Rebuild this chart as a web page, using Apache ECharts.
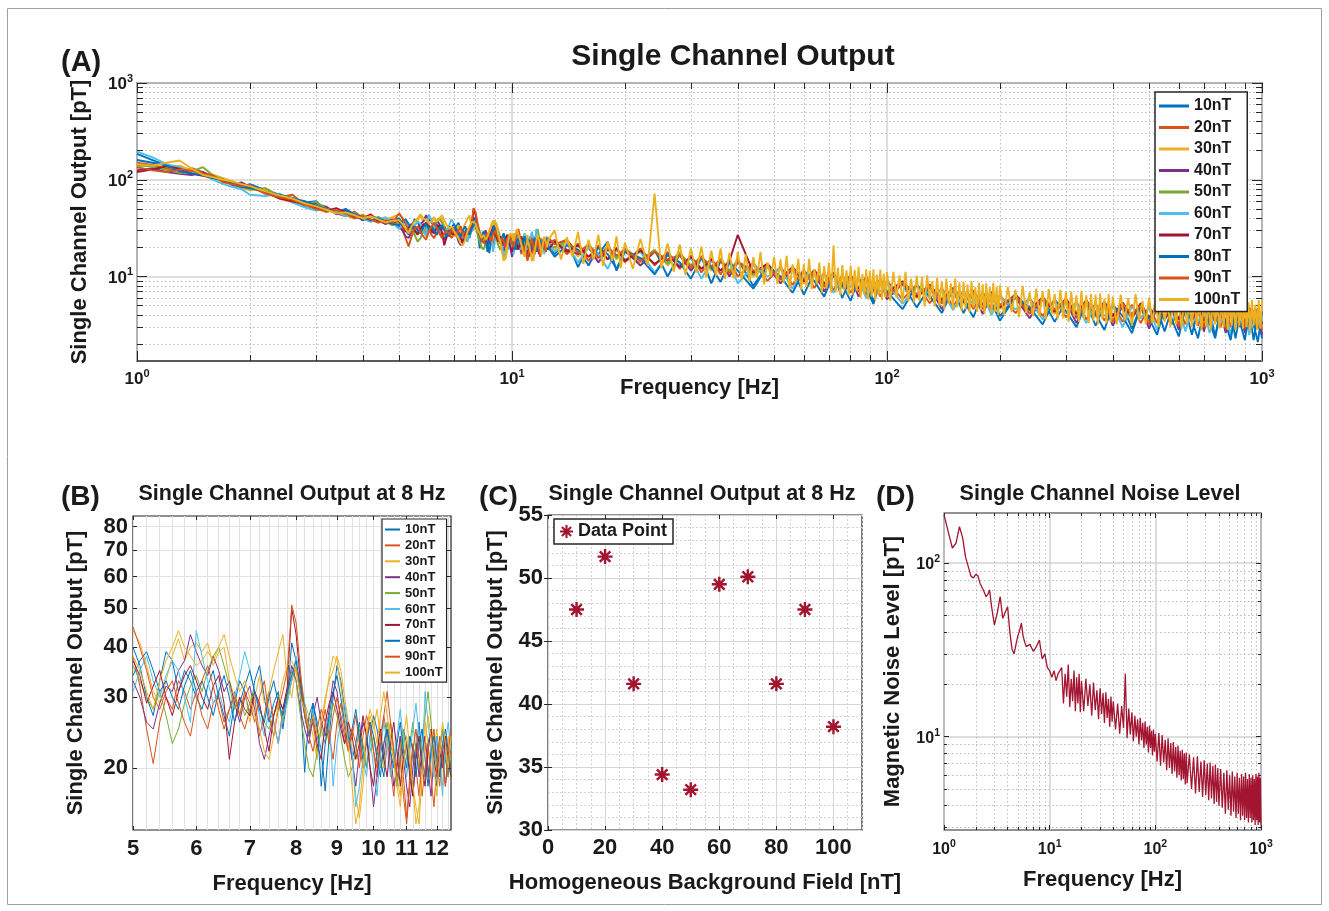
<!DOCTYPE html>
<html><head><meta charset="utf-8">
<script src="https://cdn.jsdelivr.net/npm/echarts@6/dist/echarts.min.js"></script>
<style>html,body{margin:0;padding:0;background:#fff}#c{width:1329px;height:911px}</style>
</head><body><div id="c"></div>
<script>
// ---------------- DATA ----------------
const seriesNames = ['10nT','20nT','30nT','40nT','50nT','60nT','70nT','80nT','90nT','100nT'];

// Panel A, low-frequency part (Hz) and outputs (pT)
const freqLowA = [1.0,1.1,1.2,1.3,1.4,1.5,1.6,1.7,1.8,1.9,2.0,2.2,2.4,2.6,2.8,3.0,3.2,3.4,3.6,3.8,4.0,4.2,4.4,4.6,4.8];
const lowA10  = [185,160,140,128,122,118,110,102,92,85,90,78,70,65,58,60,48,46,50,44,38,42,40,35,38];
const lowA20  = [150,142,130,125,132,120,108,98,94,90,85,72,66,70,55,50,53,45,42,47,40,37,41,38,34];
const lowA30  = [130,128,135,140,125,115,112,104,96,82,78,80,64,58,60,52,46,50,43,40,44,39,36,39,41];
const lowA40  = [125,132,120,115,112,120,106,96,90,94,84,76,70,62,54,57,52,44,48,42,39,43,38,35,37];
const lowA50  = [140,138,126,118,122,135,110,100,92,86,80,82,68,60,56,59,50,46,44,40,43,38,41,37,34];
const lowA60  = [195,170,145,135,118,112,100,90,84,80,70,68,72,58,52,48,50,47,42,45,40,37,39,41,36];
const lowA70  = [120,128,138,130,115,110,105,98,90,88,86,74,64,60,56,52,48,51,46,42,40,44,37,36,39];
const lowA80  = [160,150,140,122,116,112,104,100,88,84,82,75,70,64,60,54,50,45,47,44,41,38,40,37,35];
const lowA90  = [135,125,120,128,124,116,110,94,90,86,88,72,66,62,55,50,47,49,45,40,42,39,36,38,36];
const lowA100 = [145,140,150,158,130,112,106,100,96,90,86,76,69,64,57,53,49,45,46,43,40,42,39,36,38];

// Panel B (5 - 12.5 Hz), also used inside panel A
const freqB = [5.0,5.1,5.2,5.3,5.4,5.5,5.6,5.7,5.8,5.9,6.0,6.1,6.2,6.3,6.4,6.5,6.6,6.7,6.8,6.9,7.0,7.1,7.2,7.3,7.4,7.5,7.6,7.7,7.8,7.9,8.0,8.1,8.2,8.3,8.4,8.5,8.6,8.7,8.8,8.9,9.0,9.1,9.2,9.3,9.4,9.5,9.6,9.7,9.8,9.9,10.0,10.1,10.2,10.3,10.4,10.5,10.6,10.7,10.8,10.9,11.0,11.1,11.2,11.3,11.4,11.5,11.6,11.7,11.8,11.9,12.0,12.1,12.2,12.3,12.4,12.5];
const b10  = [40,36,30,27,33,39,37,31,35,33, 30,28,32,35,30,27,24,29,33,31, 27,33,36,30,26,29,31,25,30,41, 37,30,19.5,27,29,25,22,17.5,24,30, 36,33,28,24,21,23,26,22,20,24, 27,25,21,19,23,26,22,18,21,25, 23,20,17,22,26,21,19,23,25,20, 18,22,25,21,19,23];
const b20  = [38,32,25,20.5,26,30,28,33,31,28, 31,27,25,29,30,26,28,31,27,25, 28,30,24,27,31,26,23,28,30,33, 36,31,27,24,26,22,25,28,24,21, 26,29,25,22,24,27,23,20,24,26, 22,19,23,27,24,20,17,21,24,19, 15,19,23,20,17,21,24,19,22,25, 21,18,22,24,20,22];
const b30  = [44,41,36,31,29,33,38,42,37,40, 41,39,41,36,39,40,33,30,27,31, 26,30,34,29,31,35,39,43,33,30, 36,33,29,27,24,21,26,30,33,35, 38,35,30,26,22,17,15,18,24,27, 25,28,24,20,23,26,22,19,17,24, 27,22,18,14.5,16,21,26,23,19,22, 25,21,18,22,24,20];
const b40  = [33,30,26,25,29,32,31,35,37,43, 39,36,34,38,35,31,33,29,26,30, 32,28,23,21,24,27,30,28,31,36, 33,28,25,23,27,30,26,24,28,33, 31,26,23,25,21,18,22,26,24,20, 16,19,23,21,25,22,18,20,24,21, 18,16,20,23,19,22,24,20,17,21, 24,19,22,18,21,23];
const b50  = [36,33,30,28,31,27,23,25,29,32, 34,31,35,38,40,36,32,28,30,27, 29,31,28,26,25,27,29,26,30,35, 33,27,23,20,19,22,25,23,26,29, 27,24,21,19,20,22,25,23,20,22, 24,22,20,23,26,23,21,18,22,25, 21,23,26,22,20,24,27,31,26,22, 20,23,25,22,19,21];
const b60  = [31,35,38,33,30,34,37,35,30,26, 44,38,33,29,31,28,26,30,34,39, 35,31,27,24,28,26,23,27,29,33, 38,34,29,25,28,24,22,25,27,18, 23,26,29,25,22,16,18,21,19,24, 20,17,22,26,23,19,21,24,28,23, 19,22,25,29,24,20,31,26,22,19, 24,21,17,23,26,22];
const b70  = [37,34,29,32,35,30,27,31,34,36, 33,30,28,32,34,29,21,26,30,28, 27,31,29,25,22,27,30,28,32,50, 43,33,28,25,27,23,21,26,29,31, 28,25,23,26,24,21,23,27,24,20, 18,22,25,21,19,23,26,22,18,21, 23,19,17,21,24,20,18,22,25,21, 19,22,20,24,21,19];
const b80  = [34,37,39,35,31,33,30,28,32,35, 31,33,30,27,31,34,30,26,29,32, 35,31,28,26,30,33,29,27,31,34, 37,32,27,24,29,26,18,23,27,31, 34,30,26,23,25,28,24,21,23,26, 24,21,19,23,25,22,20,23,26,22, 20,24,22,19,23,25,21,18,22,24, 21,19,23,25,22,20];
const b90  = [45,40,35,30,28,31,33,29,26,24, 29,33,36,32,28,25,28,30,27,31, 29,26,30,33,27,24,28,31,35,51, 46,35,27,24,22,25,28,26,23,27, 30,27,24,22,25,23,20,24,27,25, 22,20,24,27,31,26,22,19,21,17, 14.5,18,22,25,21,17,20,23,19,16, 20,24,21,18,22,25];
const b100 = [38,35,31,28,33,37,40,44,40,38, 36,37,39,37,40,43,38,34,31,33, 30,27,25,22,21,24,29,33,36,37, 35,30,28,25,27,24,26,29,34,38, 37,32,27,23,18,14.5,16,20,25,28, 26,23,27,31,27,24,21,18,16,20, 24,21,18,16,14.5,19,23,27,24,20, 17,22,26,23,20,24];

// Panel A, high-frequency part (coarse grid for 10-90 nT)
const freqHighA = [13,14,15,16,17,18,19,20, 22,24,26,28,30,32,34,36,38,40, 44,48,52,56,60,64,68,72,76,80,84,88,92,96,100, 110,120,130,140,150,160,170,180,190,200, 220,240,260,280,300,320,340,360,380,400, 425,450,475,500,525,550,575,600,625,650,675,700,725,750,775,800,825,850,875,900,925,950,975,1000];
const highA10  = [17,24,12.5,21,17,23,11.5,18, 14,19,10,17,12,16,8.5,14.5,11,15, 8,13,9.5,12,6.5,11,8,10.5,6,9.8,7.2,9.5,5.5,9,6.5, 8.4,4.8,7.8,5.3,7.2,4.2,6.8,4.9,6.5,3.9, 6.1,4.3,5.8,3.4,5.5,4.0,5.3,3.1,5.1,3.7, 5.0,2.9,4.9,3.5,4.8,2.7,4.7,3.3,4.6,2.5,4.6,3.2,4.5,2.4,4.5,3.1,4.4,2.3,4.4,3.0,4.3,2.2,4.3,2.3];
const highA20  = [24,17,22,14.5,21,15,20,14, 19.5,13,18,12,16.5,11,15.5,10.5,15,10, 13.8,9,12.6,8.2,11.7,7.6,11,7.2,10.4,6.8,9.9,6.5,9.4,6.2,9, 5.8,8.3,5.3,7.6,4.9,7.1,4.6,6.8,4.5,6.4, 4.2,6.0,3.9,5.8,3.8,5.5,3.6,5.3,3.5,5.2, 3.4,5.1,3.3,4.9,3.3,4.9,3.2,4.8,3.2,4.7,3.1,4.7,3.1,4.6,3.0,4.6,3.0,4.5,3.0,4.5,2.9,4.5,2.9,4.4];
const highA30  = [19,23,16,22,15.5,21,15,20, 14,19,13,18,12,16.5,11.5,15.5,11,14.5, 10,13.5,9.2,12.5,8.5,11.8,8,11,7.5,10.5,7.2,10,6.8,9.6,6.5, 9,6,8.3,5.5,7.7,5.2,7.2,4.9,7.0,4.6, 6.6,4.4,6.2,4.1,6.0,4.0,5.7,3.8,5.5,3.7, 5.4,3.6,5.3,3.5,5.2,3.5,5.1,3.4,5.0,3.4,5.0,3.3,4.9,3.3,4.9,3.2,4.8,3.2,4.8,3.2,4.7,3.1,4.7,3.1];
const highA40  = [22,19,17,20,14,19,16,18.5, 13,18,14.5,16.5,11.5,15.5,12.5,14.8,10,14, 11,12.8,8.5,12,9,11,7,10.3,8,9.8,6.2,9.3,7.2,9,5.8, 8.4,6.2,7.8,4.6,7.2,5.4,6.8,4.1,6.5,4.8, 6.1,3.7,5.8,4.4,5.5,3.3,5.3,4.0,5.1,3.1, 5.0,3.8,4.9,2.9,4.8,3.6,4.7,2.8,4.7,3.5,4.6,2.7,4.6,3.4,4.5,2.6,4.5,3.3,4.5,2.6,4.4,3.3,4.4,2.5];
const highA50  = [20,23.5,18,21,16,20.5,15.5,19.5, 15,18.5,13.5,17.5,13,16,12,15,11.5,14.5, 10.5,13.2,9.8,12.4,9.2,11.5,8.6,10.8,8.1,10.2,7.7,9.8,7.3,9.3,7.0, 8.8,6.4,8.1,5.9,7.5,5.5,7.0,5.2,6.8,5.0, 6.4,4.7,6.0,4.4,5.8,4.3,5.6,4.1,5.4,4.0, 5.3,3.9,5.2,3.8,5.1,3.7,5.0,3.7,4.9,3.6,4.9,3.6,4.8,3.5,4.8,3.5,4.7,3.5,4.7,3.4,4.7,3.4,4.6,3.4];
const highA60  = [18,22,14,20,17,12,19,15, 18,11,16.5,13,15.5,9.5,14.5,11.5,14,8.5, 13,10,12,7.5,11,8.8,10.5,6.8,9.8,7.8,9.3,6,8.8,7,8.5, 5.2,8,6,7.3,4.5,6.8,5.2,6.5,4.0,6.1, 4.6,5.8,3.6,5.5,4.2,5.3,3.3,5.1,3.9,5.0, 3.0,4.9,3.7,4.8,2.8,4.7,3.5,4.6,2.7,4.6,3.4,4.5,2.6,4.5,3.3,4.4,2.5,4.4,3.3,4.3,2.5,4.3,3.2,4.2];
const highA70  = [23,18,21,16,20,15,19.5,14.5, 18.5,13.5,17,12.5,16,12,15,11.5,14.5,27, 11,13.5,9.6,12.5,9,11.6,8.4,10.9,7.9,10.3,7.5,9.9,7.1,9.4,6.8, 8.9,6.2,8.2,5.7,7.6,5.4,7.1,5.1,6.9,4.8, 6.5,4.5,6.1,4.3,5.9,4.1,5.7,4.0,5.5,3.9, 5.4,3.8,5.3,3.7,5.2,3.6,5.1,3.6,5.0,3.5,5.0,3.5,4.9,3.4,4.9,3.4,4.8,3.3,4.8,3.3,4.8,3.3,4.7,3.2];
const highA80  = [16,21,19,13,20,17,12,18.5, 15.5,10.5,17,14,9.5,15.5,12.5,8.8,14,11.5, 7.5,12.8,10,6.8,11.5,9,6.2,10.5,8.2,5.6,9.6,7.6,5.2,9,7, 4.6,8.2,6.3,4.2,7.4,5.7,3.8,6.8,5.3,3.5, 6.2,4.8,3.2,5.7,4.4,3.0,5.4,4.1,2.8,5.1, 3.9,2.6,4.9,3.7,2.5,4.8,3.6,2.4,4.7,3.5,2.3,4.6,3.4,2.3,4.5,3.3,2.2,4.4,3.3,2.2,4.4,3.2,2.1,4.3];
const highA90  = [21.5,24,17.5,21.5,15.5,20,16.5,19, 14.5,18,15,16.5,12.5,15.8,12.8,14.5,10.8,14.2, 11.5,12.5,9.3,12.2,9.5,11.2,7.8,10.6,8.5,9.9,6.9,9.6,7.6,9.1,6.3, 8.7,6.6,8,5.3,7.4,5.8,6.9,4.6,6.7,5.1, 6.3,4.1,6.0,4.6,5.7,3.7,5.5,4.3,5.3,3.4, 5.2,4.1,5.1,3.2,5.0,3.9,4.9,3.1,4.9,3.8,4.8,3.0,4.8,3.7,4.7,2.9,4.7,3.6,4.6,2.9,4.6,3.6,4.6,2.8];

// Dense frequency grid for the 100 nT trace (drawn on top in A)
const freqHighDense = [13,13.5,14,14.5,15,15.5,16,16.5,17,17.5,18,18.5,19,19.5,20,
 21,22,23,24,25,26,27,28,29,30,31,32,33,34,35,36,37,38,39,40,
 41,42,43,44,45,46,47,48,49,50,51,52,53,54,55,56,57,58,59,60,61,62,63,64,65,66,67,68,69,70,71,72,73,74,75,76,77,78,79,80,81,82,83,84,85,86,87,88,89,90,91,92,93,94,95,96,97,98,99,100,
 102,104,106,108,110,112,114,116,118,120,122,124,126,128,130,132,134,136,138,140,142,144,146,148,150,152,154,156,158,160,162,164,166,168,170,172,174,176,178,180,182,184,186,188,190,192,194,196,198,200,
 205,210,215,220,225,230,235,240,245,250,255,260,265,270,275,280,285,290,295,300,305,310,315,320,325,330,335,340,345,350,355,360,365,370,375,380,385,390,395,400,
 410,420,430,440,450,460,470,480,490,500,510,520,530,540,550,560,570,580,590,600,610,620,630,640,650,660,670,680,690,700,710,720,730,740,750,760,770,780,790,800,810,820,830,840,850,860,870,880,890,900,910,920,930,940,950,960,970,980,990,1000];
const highA100 = [30,15,25.5,16,29,13.5,24,15,27,12.8,23,14.5,26,12.2,22.5,
 12,24.5,13,72,12.2,22,11.2,21.5,10.4,19.5,11,20.5,9.8,18.5,10.2,19.5,9.4,17.5,9.6,18,
 9.2,17.0,8.9,15.9,9.7,18.0,8.3,14.0,9.9,16.0, 8.4,15.0,8.6,16.4,7.3,13.4,8.7,15.2,7.3,13.4, 7.8,15.2,7.4,11.9,8.3,13.9,6.8,12.8,7.5,13.9, 6.8,21,6.9,12.4,6.4,13.1,7.2,11.6,6.4,13.0, 6.5,11.7,7.1,12.6,6.0,10.6,6.5,11.9,5.8,11.5, 6.2,11.9,5.7,10.5,6.4,11.8,5.7,10.7,6.1,11.1,
 5.6,11.2,6.1,10.3,5.3,11.2,5.6,9.5,5.4,10.2, 5.6,9.9,4.9,10.3,5.7,8.9,4.9,9.7,5.0,8.9, 4.6,9.5,5.2,8.5,4.6,9.5,4.8,8.7,4.4,8.8, 4.6,8.3,4.3,9.0,4.8,7.8,4.3,8.6,4.5,8.3, 4.1,8.5,4.8,7.8,4.2,8.6,4.3,7.9,4.0,8.1,
 4.0,7.8,4.3,7.3,3.8,8.0,4.2,6.9,3.9,7.5, 3.9,7.1,3.6,7.4,4.1,6.6,3.6,7.3,3.7,6.9, 3.4,7.0,3.9,6.4,3.4,7.1,3.6,6.4,3.3,6.6, 3.5,6.5,3.2,6.7,3.6,5.9,3.3,6.6,3.4,6.2,
 3.2,6.5,3.5,6.0,3.1,6.6,3.5,5.6,3.2,6.1, 3.3,5.9,3.0,6.3,3.4,5.6,3.0,6.2,3.2,5.9, 2.9,6.0,3.3,5.5,3.0,6.2,3.1,5.5,2.8,5.8, 3.0,5.6,2.8,5.9,3.2,5.2,2.9,5.8,3.0,5.5, 2.8,5.8,3.1,5.3,2.8,5.9,3.1,5.2,2.9,5.6, 3.0,5.4,2.7,5.7,3.1,5.1,2.8,5.7,2.9,5.6];

// Panel C
const fieldC = [10,20,30,40,50,60,70,80,90,100];
const outputC = [47.5,51.7,41.6,34.4,33.2,49.5,50.1,41.6,47.5,38.2];

// Panel D
const freqLowD = [1.0,1.1,1.2,1.3,1.4,1.5,1.6,1.7,1.8,1.9,2.0,2.1,2.2,2.3,2.4,2.5,2.6,2.7,2.8,2.9,3.0, 3.2,3.4,3.6,3.8,4.0,4.2,4.4,4.6,4.8,5.0,5.2,5.4,5.6,5.8,6.0, 6.5,7.0,7.5,8.0,8.5,9.0,9.5,10,10.5,11,11.5,12];
const noiseLowD = [190,150,122,130,162,140,108,95,84,82,86,84,76,72,68,64,66,70,58,50,44, 52,64,48,52,56,40,32,30,34,38,41,45,38,35,33, 34,31,33,36,28,30,25,24,22,24,21,23];
const freqHighD = [13,13.5,14,14.5,15,15.5,16,16.5,17,17.5,18,18.5,19,19.5,20, 21,22,23,24,25,26,27,28,29,30,31,32,33,34,35,36,37,38,39,40, 42,44,46,48,50,52,54,56,58,60,62,64,66,68,70,72,74,76,78,80,82,84,86,88,90,92,94,96,98,100, 104,108,112,116,120,124,128,132,136,140,144,148,152,156,160,164,168,172,176,180,184,188,192,196,200, 210,220,230,240,250,260,270,280,290,300,310,320,330,340,350,360,370,380,390,400, 415,430,445,460,475,490,505,520,535,550,565,580,595,610,625,640,655,670,685,700,715,730,745,760,775,790,805,820,835,850,865,880,895,910,925,940,955,970,985,1000];
const noiseHighD = [25,15.5,23,17,26,14.8,21.5,16,24,14,22,15.5,23,13.8,21, 14,21.5,15,20,13.2,20.5,14.2,18.5,12.6,19,13.5,17.8,12,18,12.8,16.5,11.4,17,12.2,16, 11,15.5,10.4,15,11.2,23,9.8,14.5,10.3,13.8,9.4,13.2,10,12.6,9,12.8,9.5,12,8.6,12.2,9,11.4,8.1,11.6,8.6,10.8,7.8,11,8.2,10.4, 7.2,10.5,6.8,10.2,7.1,9.6,6.4,9.8,6.6,9.2,6.1,9.3,6.3,8.7,5.8,8.9,6.0,8.3,5.6,8.4,5.7,8.0,5.3,8.1,5.4, 7.9,5.0,7.6,4.7,7.7,4.8,7.2,4.5,7.3,4.6,7.0,4.3,7.1,4.4,6.8,4.1,6.9,4.2,6.6,4.0, 6.5,3.9,6.2,3.6,6.4,3.8,6.0,3.5,6.3,3.7,5.9,3.4,6.2,3.6,5.8,3.3,6.1,3.5,5.9,3.3,6.2,3.4,5.7,3.2,6.1,3.4,5.8,3.2,6.0,3.3,5.7,3.1,6.1,3.3,5.9,3.1,6.2,3.2,5.8,3.1];

// Tick values
const logMajorX = [1,10,100,1000];
const logMajorYA = [10,100,1000];
const logMajorYD = [10,100];
const ticksBX = [5,6,7,8,9,10,11,12];
const ticksBY = [20,30,40,50,60,70,80];
const ticksCX = [0,20,40,60,80,100];
const ticksCY = [30,35,40,45,50,55];

// ---------------- STYLE / BUILD ----------------
const colors = ['#0072BD','#D95319','#EDB120','#7E2F8E','#77AC30','#4DBEEE','#A2142F','#0072BD','#D95319','#EDB120'];
const F = "'Liberation Sans', Arial, Helvetica, sans-serif";
const INK = '#262626', TXT = '#1a1a1a';

function logMinor(lo, hi){ const out=[]; for(let d=0.1; d<=1000; d*=10){ for(let k=2;k<=9;k++){ const v=Math.round(k*d*1000)/1000; if(v>lo && v<hi) out.push(v);} } return out; }
function linMinor(lo, hi, step, majors){ const out=[]; for(let v=lo; v<=hi+1e-9; v+=step){ const r=Math.round(v*100)/100; if(majors.indexOf(r)<0) out.push(r);} return out; }

const lowA = [lowA10,lowA20,lowA30,lowA40,lowA50,lowA60,lowA70,lowA80,lowA90,lowA100];
const bAll = [b10,b20,b30,b40,b50,b60,b70,b80,b90,b100];
const highA = [highA10,highA20,highA30,highA40,highA50,highA60,highA70,highA80,highA90,highA100];
const highFreqs = [freqHighA,freqHighA,freqHighA,freqHighA,freqHighA,freqHighA,freqHighA,freqHighA,freqHighA,freqHighDense];
const pairs = (xs, ys) => xs.map((x,i)=>[x, ys[i]]);

const supFmt = v => '{b|10}{s|' + Math.round(Math.log10(v)) + '}';
const mkRich = (b, s) => ({
  b:{fontFamily:F,fontWeight:'bold',fontSize:b,color:TXT,lineHeight:b+3,verticalAlign:'bottom'},
  s:{fontFamily:F,fontWeight:'bold',fontSize:s,color:TXT,lineHeight:s,verticalAlign:'top'}
});

function axes(dim, g, o){
  const pos = dim==='x' ? 'bottom' : 'left';
  const opp = dim==='x' ? 'top' : 'right';
  const base = () => ({gridIndex:g, type:o.type, min:o.min, max:o.max, axisLine:{show:false}, splitArea:{show:false}, minorTick:{show:false}, minorSplitLine:{show:false}});
  const tick = (vals,len) => ({show:len>0, inside:true, length:len||1, customValues:vals, lineStyle:{color:INK,width:1}});
  const main = Object.assign(base(), {position:pos, name:o.name, nameLocation:'middle', nameGap:o.nameGap, nameMoveOverlap:false,
    nameTextStyle:{fontFamily:F,fontWeight:'bold',fontSize:o.nameSize,color:TXT},
    axisTick:tick(o.major,o.majorLen),
    axisLabel:{show:true, customValues:o.major, formatter:o.fmt, rich:o.rich, margin:o.margin, fontFamily:F, fontWeight:'bold', fontSize:o.labelSize, color:TXT, hideOverlap:false},
    splitLine:{show:true, lineStyle:o.majorSplit}});
  const minor = Object.assign(base(), {position:pos, axisTick:tick(o.minor,o.minorLen), axisLabel:{show:false},
    splitLine:{show:!!o.minorSplit, lineStyle:o.minorSplit||{}}});
  const mainOpp = Object.assign(base(), {position:opp, axisTick:tick(o.major,o.majorLen), axisLabel:{show:false}, splitLine:{show:false}});
  const minorOpp = Object.assign(base(), {position:opp, axisTick:tick(o.minor,o.minorLen), axisLabel:{show:false}, splitLine:{show:false}});
  return [main, minor, mainOpp, minorOpp];
}

const majA = {color:'#d2d2d2', width:1.5, type:'solid'};
const minA = {color:'#bdbdbd', width:1, type:[1.5,2.5]};
const majB = {color:'#e2e2e2', width:1, type:'solid'};
const majC = {color:'#d6d6d6', width:1, type:'solid'};
const minC = {color:'#d2d2d2', width:1, type:[2,2]};

const xAxis = [].concat(
  axes('x',0,{type:'log',min:1,max:1000,major:logMajorX,minor:logMinor(1,1000),majorLen:10,minorLen:6,fmt:supFmt,rich:mkRich(17,11),margin:7,labelSize:17,name:'Frequency [Hz]',nameGap:16,nameSize:22,majorSplit:majA,minorSplit:minA}),
  axes('x',1,{type:'log',min:5,max:12.5,major:ticksBX,minor:linMinor(5,12.5,0.2,ticksBX),majorLen:4,minorLen:0,margin:8,labelSize:22,name:'Frequency [Hz]',nameGap:43,nameSize:22,majorSplit:majB,minorSplit:majB}),
  axes('x',2,{type:'value',min:0,max:110,major:ticksCX,minor:linMinor(0,110,5,ticksCX),majorLen:4,minorLen:0,margin:7,labelSize:22,name:'Homogeneous Background Field [nT]',nameGap:42,nameSize:22,majorSplit:majC,minorSplit:minC}),
  axes('x',3,{type:'log',min:1,max:1000,major:logMajorX,minor:logMinor(1,1000),majorLen:5,minorLen:3,fmt:supFmt,rich:mkRich(16,10.5),margin:9,labelSize:16,name:'Frequency [Hz]',nameGap:39,nameSize:22,majorSplit:majA,minorSplit:minA})
);
const yAxis = [].concat(
  axes('y',0,{type:'log',min:1.34,max:1000,major:logMajorYA,minor:logMinor(1.34,1000),majorLen:10,minorLen:6,fmt:supFmt,rich:mkRich(17,11),margin:4,labelSize:17,name:'Single Channel Output [pT]',nameGap:46,nameSize:22,majorSplit:majA,minorSplit:minA}),
  axes('y',1,{type:'log',min:14,max:85,major:ticksBY,minor:[],majorLen:4,minorLen:0,margin:5,labelSize:22,name:'Single Channel Output [pT]',nameGap:46,nameSize:22,majorSplit:majB,minorSplit:null}),
  axes('y',2,{type:'value',min:30,max:55,major:ticksCY,minor:linMinor(30,55,1,ticksCY),majorLen:4,minorLen:0,margin:5,labelSize:22,name:'Single Channel Output [pT]',nameGap:41,nameSize:22,majorSplit:majC,minorSplit:minC}),
  axes('y',3,{type:'log',min:2.9,max:194,major:logMajorYD,minor:logMinor(2.9,194),majorLen:5,minorLen:3,fmt:supFmt,rich:mkRich(16,10.5),margin:4,labelSize:16,name:'Magnetic Noise Level [pT]',nameGap:40,nameSize:22,majorSplit:majA,minorSplit:minA})
);

const gridBase = {show:true, borderColor:INK, borderWidth:1.5, backgroundColor:'#fff', containLabel:false};
const grid = [
  Object.assign({}, gridBase, {left:137, top:83, width:1125, height:278}),
  Object.assign({}, gridBase, {left:133, top:516, width:318, height:314, borderWidth:1.2}),
  Object.assign({}, gridBase, {left:548, top:515, width:314, height:315, borderWidth:1.2}),
  Object.assign({}, gridBase, {left:944, top:513, width:317, height:317, borderWidth:1.2})
];

const series = [];
seriesNames.forEach((n,i)=>{
  series.push({type:'line', name:n, xAxisIndex:0, yAxisIndex:0, symbol:'none', showSymbol:false,
    data: pairs(freqLowA.concat(freqB, highFreqs[i]), lowA[i].concat(bAll[i], highA[i])),
    lineStyle:{width:1.9, color:colors[i]}, itemStyle:{color:colors[i]}});
});
seriesNames.forEach((n,i)=>{
  series.push({type:'line', name:n, xAxisIndex:4, yAxisIndex:4, symbol:'none', showSymbol:false,
    data: pairs(freqB, bAll[i]), lineStyle:{width:1, color:colors[i]}, itemStyle:{color:colors[i]}});
});
const star = 'path://M-1.6,-10L1.6,-10L1.6,10L-1.6,10Z M-10,-1.6L10,-1.6L10,1.6L-10,1.6Z M-5.9,-8.2L8.2,5.9L5.9,8.2L-8.2,-5.9Z M5.9,-8.2L8.2,-5.9L-5.9,8.2L-8.2,5.9Z';
series.push({type:'scatter', name:'Data Point', xAxisIndex:8, yAxisIndex:8, symbol:star, symbolSize:15,
  data: pairs(fieldC, outputC), itemStyle:{color:'#A2142F', opacity:1}});
series.push({type:'line', name:'Noise', xAxisIndex:12, yAxisIndex:12, symbol:'none', showSymbol:false,
  data: pairs(freqLowD.concat(freqHighD), noiseLowD.concat(noiseHighD)),
  lineStyle:{width:1.3, color:'#A2142F'}, itemStyle:{color:'#A2142F'}});

const legend = [
  {data:seriesNames, orient:'vertical', left:1155, top:92, icon:'rect', itemWidth:30, itemHeight:3, itemGap:3.5,
   padding:[5,7,3,4], backgroundColor:'#fff', borderColor:INK, borderWidth:1.5, selectedMode:false,
   textStyle:{fontFamily:F, fontWeight:'bold', fontSize:16, color:TXT, lineHeight:18}},
  {data:seriesNames, orient:'vertical', left:382, top:519, icon:'rect', itemWidth:15, itemHeight:2, itemGap:2.9,
   padding:[4,4,3,3], backgroundColor:'#fff', borderColor:INK, borderWidth:1.2, selectedMode:false,
   textStyle:{fontFamily:F, fontWeight:'bold', fontSize:13, color:TXT, lineHeight:13}},
  {data:['Data Point'], orient:'horizontal', left:554, top:519, icon:star, itemWidth:13, itemHeight:13,
   padding:[3,6,3,6], backgroundColor:'#fff', borderColor:INK, borderWidth:1.5, selectedMode:false,
   textStyle:{fontFamily:F, fontWeight:'bold', fontSize:18, color:TXT, lineHeight:19}}
];

function txt(s, x, y, size, align){
  return {type:'text', x:x, y:y, silent:true, z:10,
    style:{text:s, font:'bold '+size+'px '+F, fill:TXT, align:align||'left', verticalAlign:'middle', textAlign:align||'left', textVerticalAlign:'middle'}};
}
const graphic = [
  {type:'rect', silent:true, z:-10, shape:{x:7.5,y:8.5,width:1314,height:896}, style:{fill:'none', stroke:'#a0a0a0', lineWidth:1}},
  txt('(A)', 61, 63, 29), txt('Single Channel Output', 733, 57, 30, 'center'),
  txt('(B)', 61, 497, 28), txt('Single Channel Output at 8 Hz', 292, 494, 21.5, 'center'),
  txt('(C)', 479, 497, 28), txt('Single Channel Output at 8 Hz', 702, 494, 21.5, 'center'),
  txt('(D)', 876, 497, 28), txt('Single Channel Noise Level', 1100, 494, 21.5, 'center')
];

const chart = echarts.init(document.getElementById('c'), null, {renderer:'canvas'});
chart.setOption({animation:false, backgroundColor:'#fff', grid, xAxis, yAxis, series, legend, graphic});
</script>
</body></html>
